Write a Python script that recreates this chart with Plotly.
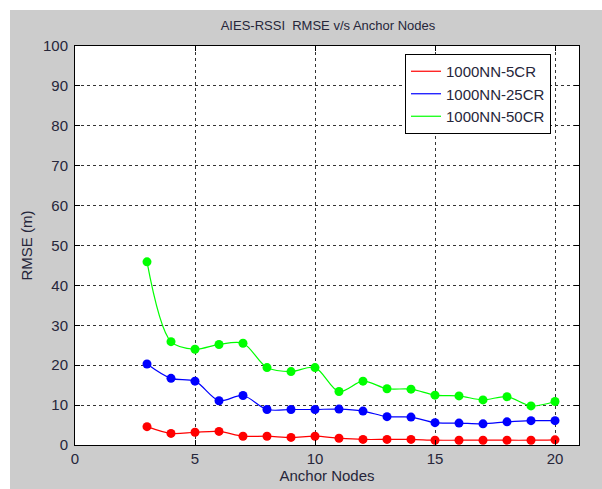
import plotly.graph_objects as go

anchor_nodes = list(range(3, 21))
rmse_5cr = [4.6, 2.9, 3.2, 3.4, 2.2, 2.2, 1.9, 2.2, 1.7, 1.4, 1.4, 1.4, 1.2, 1.2, 1.2, 1.2, 1.2, 1.3]
rmse_25cr = [20.3, 16.7, 16.0, 11.1, 12.4, 8.9, 8.9, 8.9, 9.0, 8.5, 7.1, 7.0, 5.6, 5.5, 5.3, 5.8, 6.1, 6.1]
rmse_50cr = [45.9, 25.9, 24.0, 25.2, 25.5, 19.4, 18.4, 19.4, 13.4, 16.0, 14.1, 14.0, 12.5, 12.3, 11.3, 12.1, 9.8, 10.9]
series_names = ["1000NN-5CR", "1000NN-25CR", "1000NN-50CR"]
series_colors = ["#ff0000", "#0000ff", "#00ff00"]

fig = go.Figure()
for name, vals, col in zip(series_names, [rmse_5cr, rmse_25cr, rmse_50cr], series_colors):
    fig.add_trace(go.Scatter(
        x=anchor_nodes, y=vals, name=name, mode="lines",
        line=dict(color=col, width=1.2, shape="spline", smoothing=0.9),
    ))
for name, vals, col in zip(series_names, [rmse_5cr, rmse_25cr, rmse_50cr], series_colors):
    fig.add_trace(go.Scatter(
        x=anchor_nodes, y=vals, mode="markers", showlegend=False,
        marker=dict(color=col, size=9),
    ))

text_col = "#26263a"
L, R, T, B = 75, 23, 46, 44
W, H = 602, 489
pw, ph = W - L - R, H - T - B

axis_common = dict(
    showline=True, linecolor="#000000", linewidth=1, mirror="ticks",
    ticks="inside", ticklen=5, tickcolor="#000000",
    showgrid=True, gridcolor="#333333", griddash="dot", gridwidth=1,
    zeroline=False, tickfont=dict(size=15, color=text_col),
    automargin=False,
)

fig.update_layout(
    width=W, height=H,
    margin=dict(l=L, r=R, t=T, b=B),
    paper_bgcolor="#cccccc", plot_bgcolor="#ffffff",
    font=dict(family="Liberation Sans, Arial", size=15, color=text_col),
    title=dict(text="AIES-RSSI  RMSE v/s Anchor Nodes", x=328 / W, xanchor="center",
               y=1 - 25 / H, yanchor="middle", font=dict(size=13, color=text_col)),
    xaxis=dict(range=[0, 21], tickvals=[0, 5, 10, 15, 20], ticklabelstandoff=0,
               title=dict(text="Anchor Nodes", standoff=4, font=dict(size=15, color=text_col)),
               **axis_common),
    yaxis=dict(range=[0, 100], tickvals=list(range(0, 101, 10)), ticklabelstandoff=3,
               title=dict(text="RMSE (m)", standoff=6, font=dict(size=15, color=text_col)),
               **axis_common),
    legend=dict(x=(405 - L) / pw, y=(H - B - 54) / ph, xanchor="left", yanchor="top",
                bgcolor="#ffffff", bordercolor="#000000", borderwidth=1,
                font=dict(size=15, color=text_col), tracegroupgap=0),
    shapes=[
        dict(type="rect", xref="paper", yref="paper",
             x0=-L / pw - 0.01, x1=(10 - L) / pw, y0=-B / ph - 0.01, y1=(H - B) / ph + 0.01,
             fillcolor="#ffffff", line=dict(width=0), layer="below"),
        dict(type="rect", xref="paper", yref="paper",
             x0=-L / pw - 0.01, x1=(W - L) / pw + 0.01, y0=(H - B - 10) / ph, y1=(H - B) / ph + 0.01,
             fillcolor="#ffffff", line=dict(width=0), layer="below"),
    ],
)

fig.write_html("out.html", config={"displayModeBar": False},
               post_script="document.body.style.margin='0px';document.body.style.overflow='hidden';")
